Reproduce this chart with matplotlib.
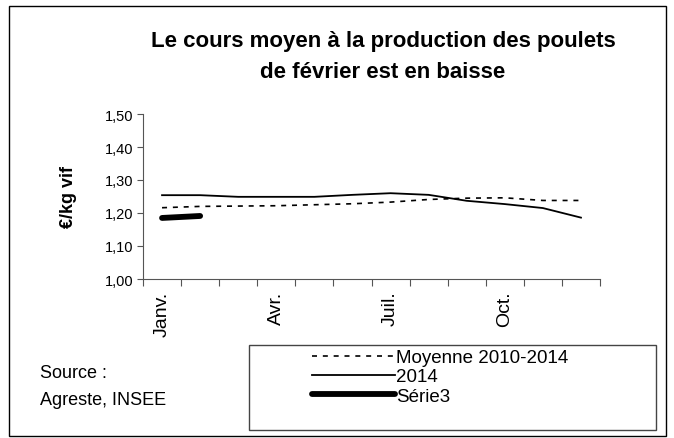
import matplotlib.pyplot as plt
from matplotlib.patches import Rectangle

plt.rcParams['font.family'] = ['Liberation Sans', 'DejaVu Sans']

mois = ['Janv.', 'Févr.', 'Mars', 'Avr.', 'Mai', 'Juin',
        'Juil.', 'Août', 'Sept.', 'Oct.', 'Nov.', 'Déc.']
moyenne = [1.216, 1.220, 1.221, 1.222, 1.225, 1.228,
           1.233, 1.241, 1.245, 1.246, 1.238, 1.238]
annee_2014 = [1.254, 1.254, 1.249, 1.249, 1.249, 1.255,
              1.260, 1.255, 1.237, 1.227, 1.215, 1.186]
serie3 = [1.185, 1.191]
yticks = [1.00, 1.10, 1.20, 1.30, 1.40, 1.50]
shown = ['Janv.', 'Avr.', 'Juil.', 'Oct.']

W, H = 674, 439
fig = plt.figure(figsize=(W / 100, H / 100), dpi=100)


def box(x0, y0, x1, y1, color):
    # rectangle in pixel coords (top-left origin)
    fig.patches.append(Rectangle((x0 / W, 1 - y1 / H), (x1 - x0) / W, (y1 - y0) / H,
                                 transform=fig.transFigure, fill=False,
                                 edgecolor=color, linewidth=1.0))


box(9, 7, 666, 437, 'black')

ax = fig.add_axes([143 / W, 1 - 280 / H, (600 - 143) / W, (280 - 115) / H])
x = list(range(len(mois)))
l1, = ax.plot(x, moyenne, color='black', linestyle=(0, (3, 3.5)), linewidth=1.2)
l2, = ax.plot(x, annee_2014, color='black', linewidth=1.3)
l3, = ax.plot(x[:len(serie3)], serie3, color='black', linewidth=4.2, solid_capstyle='round')

ax.set_xlim(-0.5, len(mois) - 0.5)
ax.set_ylim(1.0, 1.5)
ax.set_yticks(yticks)
ax.set_yticklabels([f'{v:.2f}'.replace('.', ',') for v in yticks], fontsize=10.5)
ax.set_xticks([i - 0.5 for i in range(len(mois) + 1)])
ax.set_xticklabels([])
ax.tick_params(axis='x', length=5, width=0.8, color='#555555')
ax.tick_params(axis='y', length=4, width=0.8, pad=3, color='#555555')
for i, m in enumerate(mois):
    if m in shown:
        ax.text(i, -0.07, m, rotation=90, ha='center', va='top', fontsize=14,
                transform=ax.get_xaxis_transform())
for s in ['top', 'right']:
    ax.spines[s].set_visible(False)
ax.spines['left'].set_color('#555555')
ax.spines['bottom'].set_color('#555555')
ax.set_ylabel('€/kg vif', fontsize=13, fontweight='bold', labelpad=20)

fig.text(383 / W, 1 - 41 / H, 'Le cours moyen à la production des poulets',
         ha='center', va='center', fontsize=16, fontweight='bold')
fig.text(383 / W, 1 - 73 / H, 'de février est en baisse',
         ha='center', va='center', fontsize=16, fontweight='bold')

fig.text(40 / W, 1 - 373 / H, 'Source :', ha='left', va='center', fontsize=13)
fig.text(40 / W, 1 - 401 / H, 'Agreste, INSEE', ha='left', va='center', fontsize=13)

box(249, 346, 656, 431, '#444444')
leg = fig.legend([l1, l2, l3], ['Moyenne 2010-2014', '2014', 'Série3'],
                 loc='upper left', bbox_to_anchor=(312 / W, 1 - 350 / H),
                 fontsize=13.5, handlelength=4.4, handletextpad=0.1,
                 labelspacing=0.12, borderpad=0, borderaxespad=0,
                 frameon=False)
leg._legend_box.align = 'left'

fig.savefig('out.png', dpi=100)
